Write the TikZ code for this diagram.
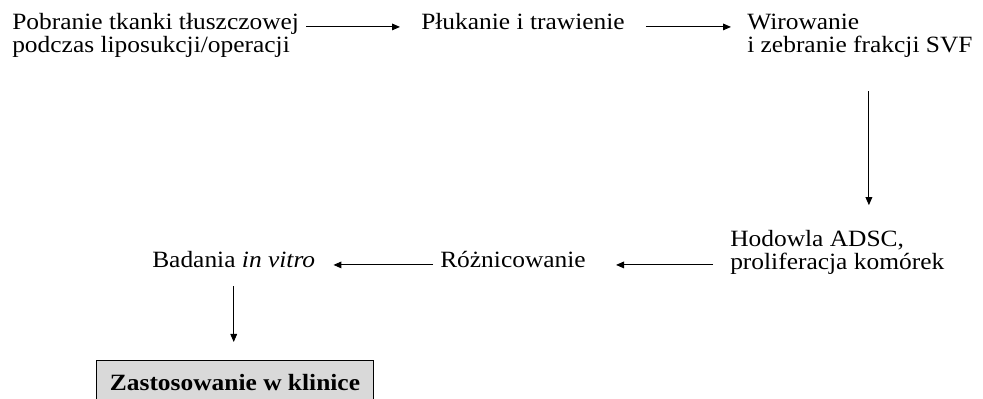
\documentclass[tikz,border=0pt]{standalone}
\usepackage{fontspec}
\setmainfont[FakeStretch=1.09]{Liberation Serif}
\usetikzlibrary{arrows.meta}
\definecolor{boxgray}{gray}{0.85}

\begin{document}
\begin{tikzpicture}[
  x=0.75pt, y=-0.75pt,
  txt/.style={font=\fontsize{17.5}{17.5}\selectfont, inner sep=0pt, align=left},
  klinika/.style={draw, fill=boxgray, line width=0.75pt, font=\fontsize{17.5}{17.5}\selectfont\bfseries,
    minimum width=207.75pt, inner xsep=0pt, inner ysep=0pt, text height=22.5pt, text depth=15pt},
  arr/.style={->, line width=0.75pt, >={Triangle[length=6pt,width=5pt]}}
]
  \useasboundingbox (0,0) rectangle (983,399);
  \clip (0,0) rectangle (983,399);

  % two-line nodes sit on the baseline of their last line
  \node[txt, anchor=base west] (pob)  at (12,53)   {Pobranie tkanki tłuszczowej\\podczas liposukcji/operacji};
  \node[txt, anchor=base west] (pluk) at (421,30)  {Płukanie i trawienie};
  \node[txt, anchor=base west] (wir)  at (747,53)  {Wirowanie\\i zebranie frakcji SVF};
  \node[txt, anchor=base west] (hod)  at (730,270) {Hodowla ADSC,\\proliferacja komórek};
  \node[txt, anchor=base west] (roz)  at (440,268) {Różnicowanie};
  \node[txt, anchor=base west] (bad)  at (152,268) {Badania \textit{in vitro}};
  \node[klinika, anchor=north west] (zas) at (96,360) {Zastosowanie w klinice};

  \draw[arr] ([xshift=5.25pt]pob.east |- pluk.mid) -- ([xshift=-15.75pt]pluk.mid west);
  \draw[arr] ([xshift=15.75pt]pluk.mid east) -- ([xshift=-12pt]wir.west |- pluk.mid);
  \draw[arr] ([xshift=6.75pt,yshift=-24.75pt]wir.south) -- ([xshift=6.75pt,yshift=18.75pt]wir.south |- hod.north);
  \draw[arr] ([xshift=-12.75pt]hod.west |- roz.mid) -- ([xshift=22.5pt]roz.mid east);
  \draw[arr] ([xshift=-5.25pt]roz.mid west) -- ([xshift=13.5pt]bad.mid east);
  \draw[arr] ([yshift=-13.5pt]bad.south) -- ([yshift=13.5pt]bad.south |- zas.north);
\end{tikzpicture}
\end{document}
